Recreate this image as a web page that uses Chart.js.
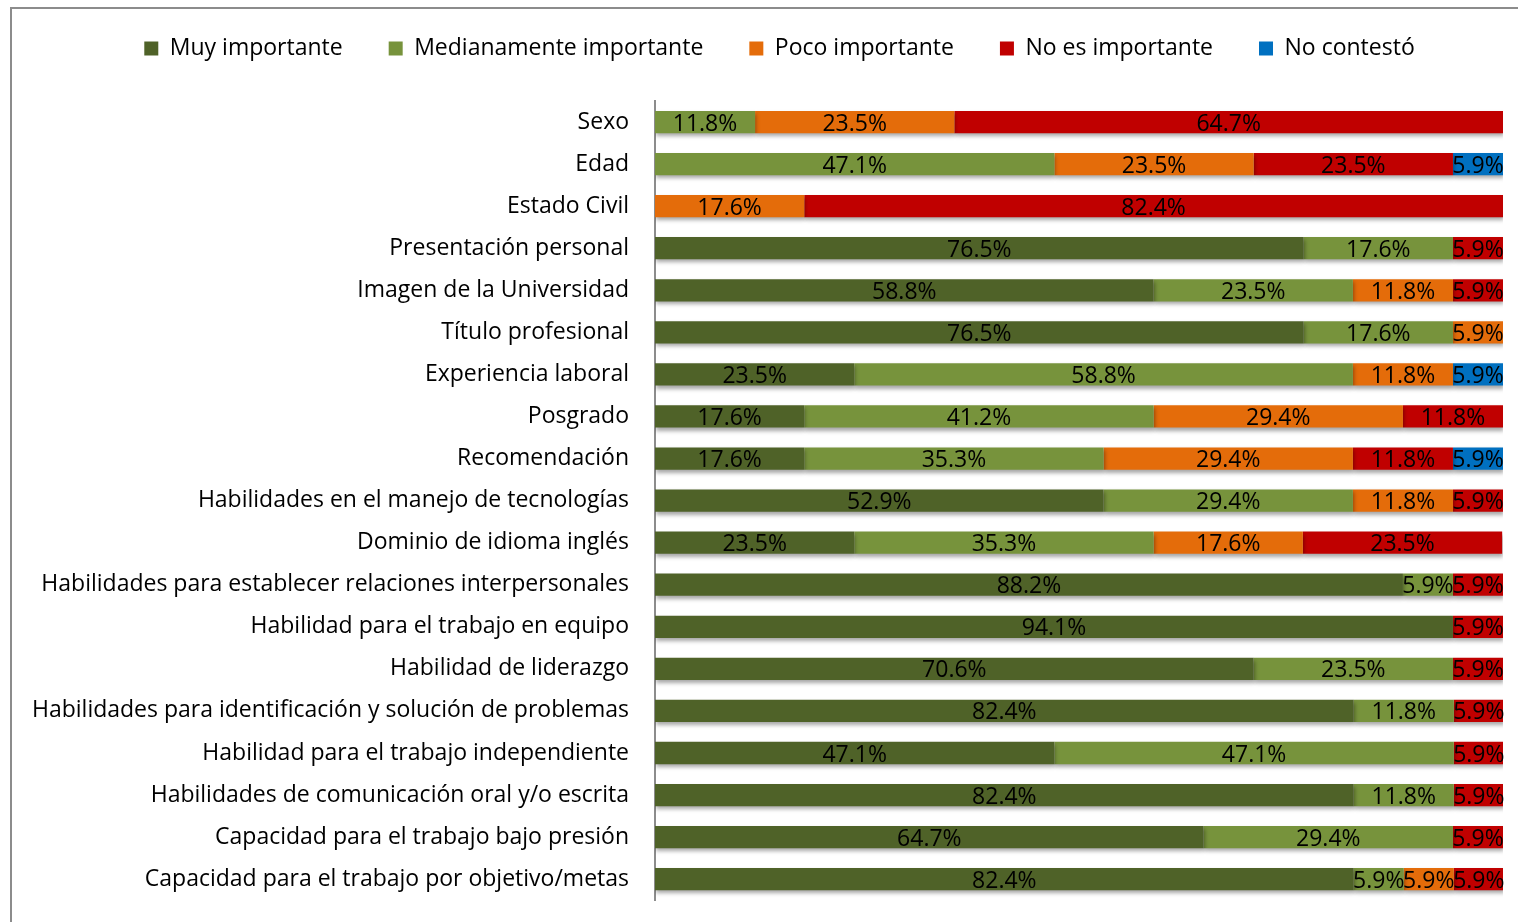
<!DOCTYPE html>
<html>
<head>
<meta charset="utf-8">
<script src="https://cdn.jsdelivr.net/npm/chart.js@4"></script>
<style>
  body { margin: 0; background: #fff; overflow: hidden; }
  #frame { position: absolute; left: 10px; top: 7px; width: 1520px; height: 930px;
    border-top: 2px solid #8c8c8c; border-left: 2px solid #8c8c8c; }
  #wrap { position: absolute; left: 0; top: -9px; width: 1518px; height: 949px; }
</style>
</head>
<body>
<div id="frame"></div>
<div id="wrap"><canvas id="chart_here"></canvas></div>
<script>
'use strict';
// stacked percentage bars, one row per hiring criterion

var categories = [
  'Sexo',
  'Edad',
  'Estado Civil',
  'Presentación personal',
  'Imagen de la Universidad',
  'Título profesional',
  'Experiencia laboral',
  'Posgrado',
  'Recomendación',
  'Habilidades en el manejo de tecnologías',
  'Dominio de idioma inglés',
  'Habilidades para establecer relaciones interpersonales',
  'Habilidad para el trabajo en equipo',
  'Habilidad de liderazgo',
  'Habilidades para identificación y solución de problemas',
  'Habilidad para el trabajo independiente',
  'Habilidades de comunicación oral y/o escrita',
  'Capacidad para el trabajo bajo presión',
  'Capacidad para el trabajo por objetivo/metas'
];

var muyImportante = [0, 0, 0, 76.5, 58.8, 76.5, 23.5, 17.6, 17.6, 52.9, 23.5, 88.2, 94.1, 70.6, 82.4, 47.1, 82.4, 64.7, 82.4];
var medianamente = [11.8, 47.1, 0, 17.6, 23.5, 17.6, 58.8, 41.2, 35.3, 29.4, 35.3, 5.9, 0, 23.5, 11.8, 47.1, 11.8, 29.4, 5.9];
var pocoImportante = [23.5, 23.5, 17.6, 0, 11.8, 5.9, 11.8, 29.4, 29.4, 11.8, 17.6, 0, 0, 0, 0, 0, 0, 0, 5.9];
var noEsImportante = [64.7, 23.5, 82.4, 5.9, 5.9, 0, 0, 11.8, 11.8, 5.9, 23.5, 5.9, 5.9, 5.9, 5.9, 5.9, 5.9, 5.9, 5.9];
var noContesto = [0, 5.9, 0, 0, 0, 0, 5.9, 0, 5.9, 0, 0, 0, 0, 0, 0, 0, 0, 0, 0];

var seriesNames = ['Muy importante', 'Medianamente importante', 'Poco importante', 'No es importante', 'No contestó'];
var seriesColors = ['#4F6228', '#77933C', '#E46C0A', '#C00000', '#0070C0'];

var FONT = '"Open Sans", sans-serif';

function makeDataset(idx, values) {
  return {
    label: seriesNames[idx],
    data: values,
    backgroundColor: seriesColors[idx],
    borderWidth: 0,
    barPercentage: 0.53,
    categoryPercentage: 1
  };
}

// soft shadow under the bars like the office chart
var barShadow = {
  id: 'barShadow',
  beforeDatasetsDraw: function(chart) {
    var ctx = chart.ctx;
    ctx.save();
    ctx.shadowColor = 'rgba(0,0,0,0.35)';
    ctx.shadowBlur = 4;
    ctx.shadowOffsetX = 1;
    ctx.shadowOffsetY = 3;
  },
  afterDatasetsDraw: function(chart) {
    chart.ctx.restore();
  }
};

// percent labels centred in every segment
var segmentLabels = {
  id: 'segmentLabels',
  afterDatasetsDraw: function(chart) {
    var ctx = chart.ctx;
    ctx.save();
    ctx.font = '23px ' + FONT;
    ctx.fillStyle = '#000';
    ctx.textAlign = 'center';
    ctx.textBaseline = 'middle';
    chart.data.datasets.forEach(function(ds, i) {
      var meta = chart.getDatasetMeta(i);
      meta.data.forEach(function(bar, j) {
        var v = ds.data[j];
        if (!v) return;
        var cx = (bar.x + bar.base) / 2;
        ctx.fillText(v.toFixed(1) + '%', cx, bar.y + 2);
      });
    });
    ctx.restore();
  }
};

// fixed legend block height so the plot starts where the original does,
// and nudge the legend a bit to the right
var legendTweak = {
  id: 'legendTweak',
  beforeInit: function(chart) {
    var origFit = chart.legend.fit;
    chart.legend.fit = function() {
      origFit.bind(chart.legend)();
      this.height = 110;
    };
  },
  afterLayout: function(chart) {
    chart.legend.left += 18;
    chart.legend.right += 18;
  }
};

var ctx = document.getElementById('chart_here').getContext('2d');
var itemChart = new Chart(ctx, {
  type: 'bar',
  data: {
    labels: categories,
    datasets: [
      makeDataset(0, muyImportante),
      makeDataset(1, medianamente),
      makeDataset(2, pocoImportante),
      makeDataset(3, noEsImportante),
      makeDataset(4, noContesto)
    ]
  },
  options: {
    indexAxis: 'y',
    responsive: true,
    maintainAspectRatio: false,
    animation: false,
    layout: { padding: { top: 0, right: 15, bottom: 5, left: 20 } },
    plugins: {
      legend: {
        position: 'top',
        labels: {
          boxWidth: 14,
          boxHeight: 14,
          padding: 46,
          color: '#000',
          font: { family: FONT, size: 23 }
        }
      },
      tooltip: { enabled: false }
    },
    scales: {
      x: {
        stacked: true,
        min: 0,
        max: 100,
        display: false
      },
      y: {
        stacked: true,
        afterFit: function(axis) { axis.width = 635; },
        grid: { display: false, drawTicks: false },
        border: { display: true, color: '#8c8c8c', width: 2 },
        ticks: {
          padding: 26,
          color: '#000',
          autoSkip: false,
          font: { family: FONT, size: 23 }
        }
      }
    }
  },
  plugins: [barShadow, segmentLabels, legendTweak]
});
</script>
</body>
</html>
